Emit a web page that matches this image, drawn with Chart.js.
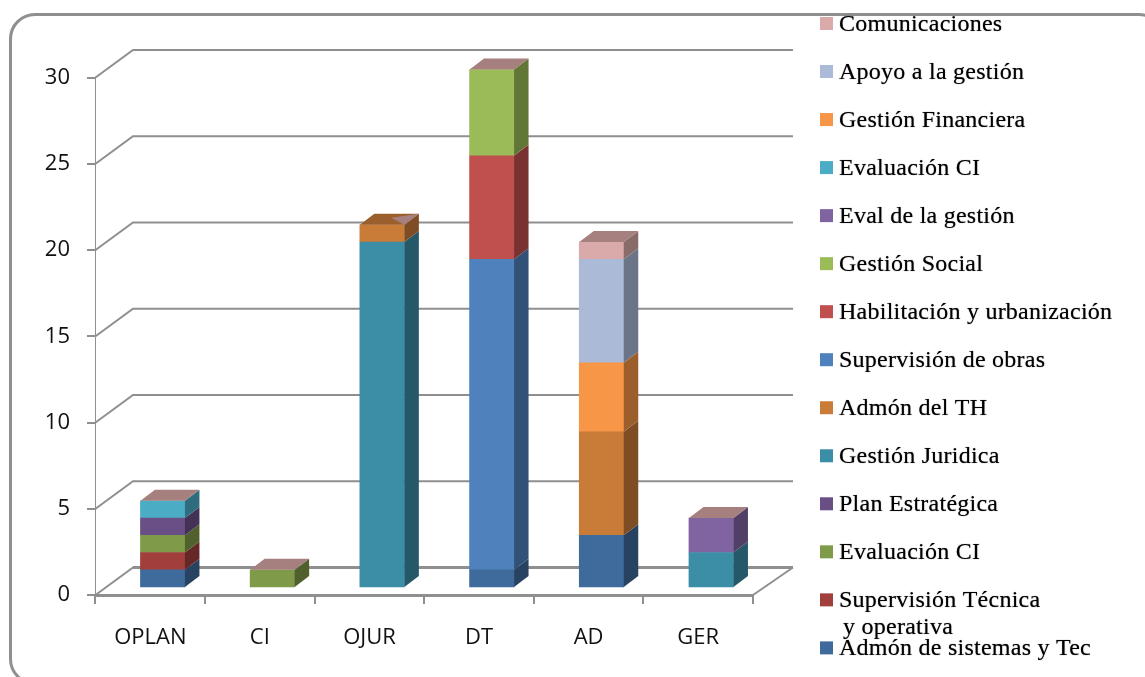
<!DOCTYPE html>
<html>
<head>
<meta charset="utf-8">
<style>
html,body{margin:0;padding:0;background:#fff;overflow:hidden;width:1145px;height:677px}
#wrap{position:relative;width:1145px;height:677px;overflow:hidden}
#frame{position:absolute;left:9px;top:13px;width:1150px;height:666px;border:3px solid #8f8f8f;border-radius:26px;box-sizing:content-box}
canvas{position:absolute;left:0;top:0}
</style>
<script src="https://cdn.jsdelivr.net/npm/chart.js@4/dist/chart.umd.min.js"></script>
</head>
<body>
<div id="wrap"><div id="frame"></div><canvas id="c" width="1145" height="677"></canvas></div>
<script>
const categories = ["OPLAN","CI","OJUR","DT","AD","GER"];
const admonSistemas   = [1,0,0,1,3,0];
const supervisionTec  = [1,0,0,0,0,0];
const evaluacionCI1   = [1,1,0,0,0,0];
const planEstrategica = [1,0,0,0,0,0];
const gestionJuridica = [0,0,20,0,0,2];
const admonTH         = [0,0,1,0,6,0];
const supervisionObra = [0,0,0,18,0,0];
const habilitacion    = [0,0,0,6,0,0];
const gestionSocial   = [0,0,0,5,0,0];
const evalGestion     = [0,0,0,0,0,2];
const evaluacionCI2   = [1,0,0,0,0,0];
const gestionFin      = [0,0,0,0,4,0];
const apoyoGestion    = [0,0,0,0,6,0];
const comunicaciones  = [0,0,0,0,1,0];
const seriesNames = ["Admón de sistemas y Tec","Supervisión Técnica","Evaluación CI","Plan Estratégica","Gestión Juridica","Admón del TH","Supervisión de obras","Habilitación y urbanización","Gestión Social","Eval de la gestión","Evaluación CI","Gestión Financiera","Apoyo a la gestión","Comunicaciones"];
const seriesValues = [admonSistemas,supervisionTec,evaluacionCI1,planEstrategica,gestionJuridica,admonTH,supervisionObra,habilitacion,gestionSocial,evalGestion,evaluacionCI2,gestionFin,apoyoGestion,comunicaciones];
const seriesColors = ["#3f6a9c","#a03f3c","#7f9a48","#6a4f87","#3b8ea6","#c97b38","#4f81bd","#c0504d","#9bbb59","#8064a2","#4bacc6","#f79646","#aabad7","#d9aaa9"];
const legendContinuation = "y operativa";

const GRID = "#8f8f8f";
const DX = 14.5, DY = -11;
const WALL_DX = 37.5, WALL_DY = -27.5;

function shade(hex, f){
  const n = parseInt(hex.slice(1),16);
  return `rgb(${Math.round((n>>16&255)*f)},${Math.round((n>>8&255)*f)},${Math.round((n&255)*f)})`;
}

const wall3d = {
  id:'wall3d',
  beforeDatasetsDraw(chart){
    const {ctx, scales:{y}, chartArea:a} = chart;
    ctx.save();
    ctx.strokeStyle = GRID; ctx.lineWidth = 2;
    y.ticks.forEach(t=>{
      const p = y.getPixelForValue(t.value);
      ctx.beginPath();
      ctx.moveTo(a.left,p);
      ctx.lineTo(a.left+WALL_DX,p+WALL_DY);
      ctx.lineTo(a.right+40,p+WALL_DY);
      ctx.stroke();
    });
    const p0 = y.getPixelForValue(0);
    ctx.lineWidth = 3;
    ctx.beginPath(); ctx.moveTo(a.left+WALL_DX,p0+WALL_DY); ctx.lineTo(a.right+40,p0+WALL_DY); ctx.stroke();
    ctx.lineWidth = 2;
    ctx.beginPath(); ctx.moveTo(a.right,p0); ctx.lineTo(a.right+40,p0+WALL_DY); ctx.stroke();
    ctx.restore();
  }
};

const bars3d = {
  id:'bars3d',
  afterDatasetsDraw(chart){
    const {ctx} = chart;
    ctx.save();
    const n = chart.data.datasets.length;
    categories.forEach((_,j)=>{
      let top = null;
      for(let i=0;i<n;i++){
        if(!seriesValues[i][j]) continue;
        const el = chart.getDatasetMeta(i).data[j];
        const r = el.x + el.width/2;
        ctx.fillStyle = shade(seriesColors[i],0.63);
        ctx.beginPath();
        ctx.moveTo(r,el.base); ctx.lineTo(r+DX,el.base+DY);
        ctx.lineTo(r+DX,el.y+DY); ctx.lineTo(r,el.y); ctx.closePath(); ctx.fill();
        top = {el,i};
      }
      if(!top) return;
      const e = top.el, l = e.x-e.width/2, r = e.x+e.width/2;
      const isOjur = categories[j]==="OJUR";
      ctx.fillStyle = isOjur ? "#9a5f2c" : "#a6807e";
      ctx.beginPath();
      ctx.moveTo(l,e.y); ctx.lineTo(r,e.y); ctx.lineTo(r+DX,e.y+DY); ctx.lineTo(l+DX,e.y+DY); ctx.closePath(); ctx.fill();
      if(isOjur){
        ctx.fillStyle = "#a6807e";
        ctx.beginPath();
        ctx.moveTo(r-13,e.y-7); ctx.lineTo(r+DX,e.y+DY); ctx.lineTo(r,e.y); ctx.closePath(); ctx.fill();
      }
    });
    ctx.restore();
  }
};

const sideLegend = {
  id:'sideLegend',
  afterDraw(chart){
    const {ctx} = chart;
    ctx.save();
    ctx.font = '24px "Liberation Serif"';
    ctx.letterSpacing = '0.25px';
    ctx.textBaseline = 'middle';
    const n = chart.data.datasets.length;
    for(let i=0;i<n;i++){
      const d = chart.data.datasets[n-1-i];
      const yc = 23.5 + i*48.03;
      ctx.shadowColor = 'transparent'; ctx.shadowBlur = 0;
      ctx.fillStyle = d.backgroundColor;
      ctx.fillRect(820,yc-6.5,13,13);
      ctx.fillStyle = "#000";
      ctx.shadowColor = 'rgba(0,0,0,0.6)'; ctx.shadowBlur = 1;
      ctx.fillText(d.label,839,yc+1);
      if(d.label==="Supervisión Técnica") ctx.fillText(legendContinuation,843,yc+28);
    }
    ctx.restore();
  }
};

new Chart(document.getElementById('c'),{
  type:'bar',
  data:{
    labels:categories,
    datasets:seriesNames.map((name,i)=>({
      label:name,
      data:seriesValues[i].map((v,j)=>({x:j,y:v||null})),
      backgroundColor:seriesColors[i],
      borderWidth:0,
      barThickness:44.5,
      clip:false,
      xAxisID:'xBars',
      yAxisID:'yBars'
    }))
  },
  options:{
    responsive:false,
    animation:false,
    layout:{padding:{top:77.5,right:392,left:0,bottom:0}},
    plugins:{legend:{display:false},tooltip:{enabled:false},title:{display:false}},
    scales:{
      x:{
        type:'category',position:'bottom',offset:true,
        grid:{display:true,offset:true,drawOnChartArea:false,drawTicks:true,tickLength:9,color:GRID,lineWidth:2},
        border:{display:true,color:GRID,width:3},
        ticks:{color:"#111",font:{family:'"Open Sans"',size:22},padding:21,maxRotation:0,autoSkip:false},
        afterFit(s){s.height=82;}
      },
      y:{
        type:'linear',position:'left',min:0,max:30,
        grid:{display:true,drawOnChartArea:false,tickLength:8.5,color:GRID,lineWidth:2},
        border:{display:true,color:GRID,width:1},
        ticks:{stepSize:5,color:"#111",font:{family:'"Open Sans"',size:22},padding:17},
        afterFit(s){s.width=95.5;}
      },
      xBars:{type:'linear',display:false,stacked:true,offset:false,min:-0.6126,max:5.381},
      yBars:{type:'linear',display:false,stacked:true,min:-0.463,max:29.537}
    }
  },
  plugins:[wall3d,bars3d,sideLegend]
});
</script>
</body>
</html>
